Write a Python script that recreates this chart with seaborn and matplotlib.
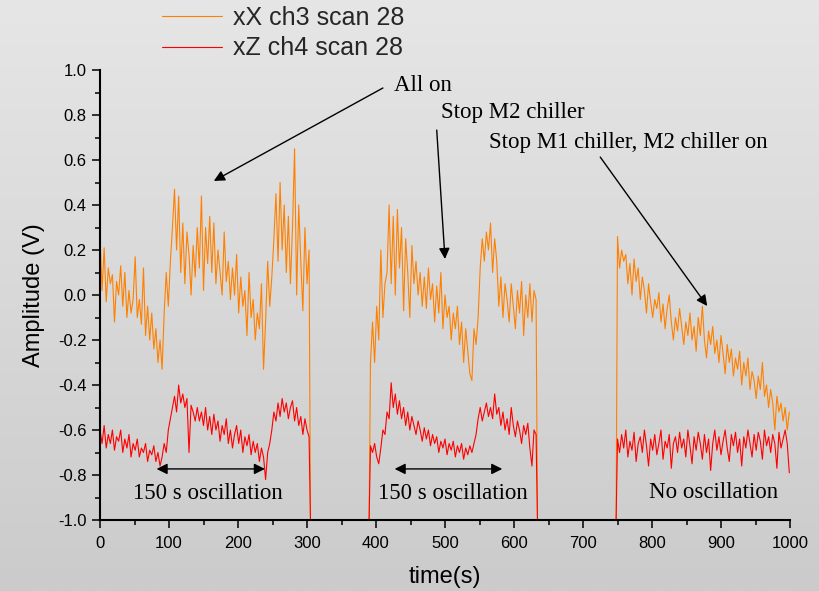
import numpy as np
import pandas as pd
import matplotlib
matplotlib.use("Agg")
import matplotlib.pyplot as plt
from matplotlib.colors import LinearSegmentedColormap
from matplotlib.ticker import MultipleLocator
import seaborn as sns

# ---------------- data ----------------
series_names = ["xX ch3 scan 28", "xZ ch4 scan 28"]
series_colors = ["#ff8000", "#ff0000"]
step = 3.0

# segment 1: t = 0 ... 303 (step 3), drop to -1 at 305
seg1_start, seg1_end = 0.0, 305.0
x_seg1 = [0.27, 0.02, 0.21, -0.03, 0.12, 0.05, 0.09, -0.12, 0.06, 0.0,
          0.13, -0.05, 0.10, -0.10, 0.02, -0.08, -0.02, 0.17, -0.10, -0.02,
          -0.13, 0.12, -0.18, -0.05, -0.20, -0.08, -0.24, -0.15, -0.30, -0.20,
          -0.33, -0.08, 0.10, -0.05, 0.15, 0.30, 0.47, 0.20, 0.44, 0.10,
          0.32, 0.05, 0.28, 0.18, 0.0, 0.22, 0.08, 0.30, 0.12, 0.44,
          0.02, 0.30, 0.14, 0.35, 0.10, 0.32, 0.05, 0.20, 0.10, 0.0,
          0.28, 0.06, 0.15, -0.02, 0.12, 0.0, 0.18, -0.08, 0.08, -0.05,
          0.02, -0.18, 0.10, -0.10, -0.02, -0.20, -0.08, -0.15, 0.05, -0.33,
          -0.12, 0.15, -0.05, 0.08, 0.25, 0.45, 0.15, 0.50, 0.20, 0.40,
          0.10, 0.35, 0.05, 0.30, 0.65, 0.0, 0.40, 0.15, -0.07, 0.30,
          0.05, 0.20]
z_seg1 = [-0.60, -0.66, -0.58, -0.68, -0.62, -0.66, -0.60, -0.69, -0.63, -0.65,
          -0.60, -0.70, -0.64, -0.68, -0.62, -0.72, -0.66, -0.69, -0.64, -0.72,
          -0.68, -0.70, -0.66, -0.74, -0.69, -0.71, -0.67, -0.74, -0.70, -0.76,
          -0.72, -0.66, -0.70, -0.60, -0.55, -0.50, -0.45, -0.52, -0.40, -0.48,
          -0.44, -0.50, -0.46, -0.70, -0.49, -0.52, -0.56, -0.50, -0.56, -0.52,
          -0.58, -0.50, -0.60, -0.54, -0.62, -0.53, -0.60, -0.56, -0.65, -0.58,
          -0.62, -0.55, -0.66, -0.60, -0.68, -0.62, -0.58, -0.66, -0.60, -0.70,
          -0.63, -0.67, -0.62, -0.71, -0.65, -0.70, -0.66, -0.74, -0.68, -0.72,
          -0.82, -0.70, -0.66, -0.60, -0.52, -0.56, -0.48, -0.54, -0.46, -0.52,
          -0.48, -0.55, -0.50, -0.47, -0.56, -0.50, -0.58, -0.54, -0.62, -0.55,
          -0.60, -0.63]

# segment 2: rise from -1 at 390, values from t = 392 (step 3), drop at 634
seg2_drop_in, seg2_start, seg2_end = 390.0, 392.0, 634.0
x_seg2 = [-0.30, -0.12, -0.30, -0.05, -0.20, 0.20, -0.10, 0.05, 0.10, 0.40,
          0.05, 0.35, 0.0, 0.38, 0.12, 0.30, -0.07, 0.25, 0.10, -0.10,
          0.22, 0.05, 0.15, 0.0, 0.10, -0.05, 0.08, -0.06, 0.12, -0.02,
          0.05, -0.12, 0.04, -0.08, 0.10, -0.15, 0.0, -0.10, -0.05, -0.20,
          -0.08, -0.15, -0.05, -0.22, -0.12, -0.30, -0.15, -0.25, -0.35, -0.38,
          -0.15, -0.22, -0.10, 0.12, 0.25, 0.15, 0.28, 0.20, 0.32, 0.10,
          0.25, 0.15, -0.05, 0.08, -0.10, 0.05, -0.02, -0.12, 0.05, -0.05,
          -0.15, 0.02, -0.08, 0.06, -0.18, 0.0, -0.10, 0.05, -0.12, 0.02,
          -0.02]
z_seg2 = [-0.67, -0.70, -0.66, -0.72, -0.75, -0.68, -0.60, -0.62, -0.52, -0.55,
          -0.39, -0.50, -0.44, -0.53, -0.47, -0.55, -0.50, -0.58, -0.52, -0.60,
          -0.54, -0.58, -0.62, -0.56, -0.60, -0.65, -0.59, -0.64, -0.60, -0.67,
          -0.62, -0.66, -0.63, -0.70, -0.65, -0.68, -0.64, -0.71, -0.66, -0.69,
          -0.65, -0.72, -0.67, -0.70, -0.66, -0.73, -0.68, -0.71, -0.67, -0.70,
          -0.66, -0.62, -0.55, -0.50, -0.56, -0.52, -0.48, -0.54, -0.50, -0.55,
          -0.44, -0.53, -0.50, -0.58, -0.52, -0.60, -0.55, -0.62, -0.50, -0.58,
          -0.63, -0.56, -0.60, -0.66, -0.58, -0.62, -0.57, -0.68, -0.76, -0.60,
          -0.62]

# segment 3: rise from -1 at 748, values from t = 750 (step 3)
seg3_drop_in, seg3_start = 748.0, 750.0
x_seg3 = [0.26, 0.12, 0.20, 0.15, 0.18, 0.05, 0.14, 0.0, 0.16, 0.06,
          0.12, -0.02, 0.08, 0.02, -0.08, 0.05, -0.03, -0.10, -0.02, -0.06,
          0.01, -0.12, -0.04, -0.15, -0.06, 0.0, -0.12, -0.20, -0.10, -0.16,
          -0.06, -0.14, -0.22, -0.12, -0.18, -0.08, -0.20, -0.14, -0.25, -0.10,
          -0.18, -0.05, -0.20, -0.28, -0.16, -0.22, -0.14, -0.26, -0.20, -0.30,
          -0.18, -0.26, -0.35, -0.22, -0.30, -0.24, -0.36, -0.28, -0.33, -0.25,
          -0.40, -0.30, -0.36, -0.28, -0.42, -0.34, -0.38, -0.46, -0.36, -0.42,
          -0.30, -0.45, -0.40, -0.50, -0.42, -0.48, -0.60, -0.45, -0.52, -0.48,
          -0.56, -0.50, -0.60, -0.52]
z_seg3 = [-0.64, -0.70, -0.62, -0.68, -0.60, -0.72, -0.65, -0.69, -0.61, -0.74,
          -0.66, -0.63, -0.70, -0.60, -0.67, -0.76, -0.64, -0.69, -0.62, -0.71,
          -0.66, -0.60, -0.73, -0.65, -0.68, -0.62, -0.77, -0.66, -0.63, -0.70,
          -0.61, -0.68, -0.64, -0.72, -0.60, -0.67, -0.75, -0.63, -0.69, -0.61,
          -0.66, -0.73, -0.62, -0.70, -0.64, -0.78, -0.66, -0.60, -0.69, -0.63,
          -0.71, -0.65, -0.60, -0.68, -0.74, -0.62, -0.67, -0.61, -0.70, -0.64,
          -0.76, -0.63, -0.68, -0.60, -0.66, -0.72, -0.62, -0.69, -0.61, -0.65,
          -0.73, -0.60, -0.67, -0.63, -0.70, -0.62, -0.66, -0.77, -0.61, -0.68,
          -0.64, -0.60, -0.66, -0.79]

floor_value = -1.0

x_ticks = [0, 100, 200, 300, 400, 500, 600, 700, 800, 900, 1000]
y_ticks = [-1.0, -0.8, -0.6, -0.4, -0.2, 0.0, 0.2, 0.4, 0.6, 0.8, 1.0]

annot_texts = ["All on", "Stop M2 chiller", "Stop M1 chiller, M2 chiller on"]
annot_text_pos = [(426, 0.933), (494, 0.809), (564, 0.676)]
annot_tail = [(410, 0.92), (488, 0.733), (725, 0.613)]
annot_tip = [(165, 0.507), (500, 0.16), (880, -0.049)]
osc_texts = ["150 s oscillation", "150 s oscillation", "No oscillation"]
osc_text_pos = [(48, -0.884), (403, -0.884), (796, -0.876)]
osc_spans = [(82, 239), (427, 583)]
osc_span_y = -0.773

# ---------------- build long-form table ----------------
def segment_rows(name, seg_id, start, values, drop_in=None, drop_out=None):
    t = list(start + step * np.arange(len(values)))
    v = list(values)
    if drop_in is not None:
        t = [drop_in] + t
        v = [floor_value] + v
    if drop_out is not None:
        t = t + [drop_out]
        v = v + [floor_value]
    return pd.DataFrame({"t": t, "v": v, "series": name, "seg": seg_id})

frames = [
    segment_rows(series_names[0], 1, seg1_start, x_seg1, None, seg1_end),
    segment_rows(series_names[0], 2, seg2_start, x_seg2, seg2_drop_in, seg2_end),
    segment_rows(series_names[0], 3, seg3_start, x_seg3, seg3_drop_in, None),
    segment_rows(series_names[1], 1, seg1_start, z_seg1, None, seg1_end),
    segment_rows(series_names[1], 2, seg2_start, z_seg2, seg2_drop_in, seg2_end),
    segment_rows(series_names[1], 3, seg3_start, z_seg3, seg3_drop_in, None),
]
df = pd.concat(frames, ignore_index=True)

# ---------------- style ----------------
sns.set_style("ticks")
plt.rcParams["font.family"] = ["Liberation Sans", "DejaVu Sans"]

W, H = 819, 591
fig = plt.figure(figsize=(W / 100, H / 100), dpi=100)

# gradient background
bg = fig.add_axes([0, 0, 1, 1], zorder=-5)
grad = np.linspace(0, 1, 256).reshape(-1, 1)
cmap = LinearSegmentedColormap.from_list("bg", ["#e6e6e6", "#cbcbcb"])
bg.imshow(grad, aspect="auto", cmap=cmap, extent=[0, 1, 0, 1], origin="upper")
bg.set_axis_off()

ax = fig.add_axes([100 / W, 1 - 520 / H, 690 / W, 450 / H], zorder=1)
ax.set_facecolor("none")

sns.lineplot(data=df, x="t", y="v", hue="series", units="seg", estimator=None,
             palette=dict(zip(series_names, series_colors)),
             hue_order=series_names, linewidth=0.8, ax=ax, sort=False)

ax.set_xlim(0, 1000)
ax.set_ylim(-1.0, 1.0)
ax.set_xticks(x_ticks)
ax.set_yticks(y_ticks)
ax.set_xticklabels([str(v) for v in x_ticks])
ax.set_yticklabels([f"{v:.1f}" for v in y_ticks])
ax.xaxis.set_minor_locator(MultipleLocator(50))
ax.yaxis.set_minor_locator(MultipleLocator(0.1))
ax.tick_params(axis="both", which="major", direction="out", length=5.8, width=1.1,
               labelsize=12, color="black", labelcolor="black")
ax.tick_params(axis="x", which="major", pad=6)
ax.tick_params(axis="y", which="major", pad=4)
ax.tick_params(axis="both", which="minor", direction="out", length=3.6, width=1.1,
               color="black")
for s in ["top", "right"]:
    ax.spines[s].set_visible(False)
for s in ["left", "bottom"]:
    ax.spines[s].set_linewidth(1.5)
    ax.spines[s].set_color("black")

ax.set_xlabel("time(s)", fontsize=17, color="black")
ax.set_ylabel("Amplitude (V)", fontsize=17, color="black")
ax.xaxis.set_label_coords(0.5, -0.102)
ax.yaxis.set_label_coords(-0.080, 0.5)

# legend above the axes
handles, labels = ax.get_legend_handles_labels()
ax.legend(handles, labels, loc="upper left",
          bbox_to_anchor=(162 / W, 1 - 6 / H), bbox_transform=fig.transFigure,
          frameon=False, fontsize=18, handlelength=2.4, handletextpad=0.45,
          labelspacing=0.25, borderpad=0, borderaxespad=0)

# annotations
serif = ["Liberation Serif", "DejaVu Serif"]
for txt, pos, tail, tip in zip(annot_texts, annot_text_pos, annot_tail, annot_tip):
    ax.text(pos[0], pos[1], txt, family=serif, fontsize=16.5, ha="left", va="center",
            color="black")
    ax.annotate("", xy=tip, xytext=tail,
                arrowprops=dict(arrowstyle="-|>", color="black", lw=1.0,
                                mutation_scale=16, shrinkA=0, shrinkB=0))
for txt, pos in zip(osc_texts, osc_text_pos):
    ax.text(pos[0], pos[1], txt, family=serif, fontsize=16.5, ha="left", va="center",
            color="black")
for a, b in osc_spans:
    ax.annotate("", xy=(b, osc_span_y), xytext=(a, osc_span_y),
                arrowprops=dict(arrowstyle="<|-|>", color="black", lw=1.0,
                                mutation_scale=16, shrinkA=0, shrinkB=0))

fig.savefig("out.png", dpi=100)
